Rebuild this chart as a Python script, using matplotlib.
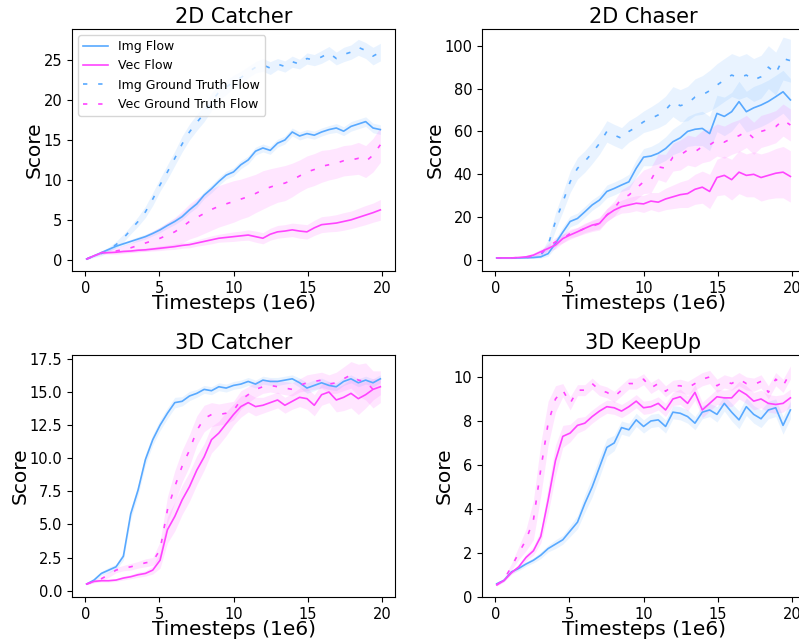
import numpy as np
import matplotlib
matplotlib.use('Agg')
import matplotlib.pyplot as plt

# Timesteps (1e6), evenly spaced evaluation points
timesteps = np.linspace(0.1, 19.9, 41)

titles = ["2D Catcher", "2D Chaser", "3D Catcher", "3D KeepUp"]
labels = ["Img Flow", "Vec Flow", "Img Ground Truth Flow", "Vec Ground Truth Flow"]

# ---------------- 2D Catcher ----------------
tl_img_flow = [0.1,0.5,0.9,1.3,1.7,2.0,2.3,2.6,2.9,3.3,3.75,4.3,4.8,5.4,6.25,7.0,8.1,8.9,9.8,10.6,11.0,11.9,12.5,13.6,14.0,13.7,14.6,15.0,16.0,15.5,15.8,15.6,16.0,16.3,16.5,16.1,16.7,17.0,17.3,16.5,16.3]
tl_img_flow_sd = [0.05,0.1,0.15,0.2,0.2,0.25,0.25,0.3,0.3,0.3,0.35,0.35,0.4,0.4,0.4,0.45,0.45,0.5,0.5,0.5,0.5,0.5,0.5,0.5,0.5,0.5,0.5,0.5,0.5,0.5,0.5,0.5,0.5,0.5,0.55,0.55,0.6,0.6,0.6,0.6,0.6]
tl_vec_flow = [0.1,0.5,0.85,0.9,0.95,1.05,1.1,1.2,1.25,1.35,1.45,1.55,1.65,1.8,1.9,2.1,2.3,2.5,2.7,2.8,2.9,3.0,3.1,2.9,2.7,3.2,3.5,3.6,3.75,3.6,3.5,4.0,4.4,4.5,4.6,4.8,5.0,5.3,5.6,5.9,6.25]
tl_vec_flow_sd = [0.05,0.05,0.1,0.1,0.1,0.15,0.15,0.2,0.2,0.25,0.3,0.3,0.35,0.35,0.4,0.4,0.45,0.5,0.5,0.55,0.6,0.6,0.65,0.7,0.7,0.75,0.8,0.8,0.85,0.9,0.9,0.95,1.0,1.0,1.05,1.1,1.1,1.15,1.2,1.2,1.3]
tl_img_gt = [0.1,0.5,0.8,1.3,1.9,2.7,3.75,4.8,6.0,7.6,9.4,11.0,12.7,14.5,16.0,17.2,18.3,19.8,21.0,21.6,22.3,22.8,23.5,24.1,24.4,24.0,24.5,24.2,24.8,24.5,25.2,25.0,25.4,25.9,25.2,25.7,26.0,26.6,26.2,25.5,26.0]
tl_img_gt_sd = [0.1,0.2,0.3,0.3,0.4,0.5,0.5,0.6,0.7,0.8,0.8,0.9,0.9,1.0,1.0,1.0,1.0,1.1,1.0,0.9,0.8,0.8,0.7,0.7,0.8,0.8,0.7,0.7,0.7,0.6,0.7,0.7,0.8,0.8,0.8,0.9,0.9,1.0,1.0,1.1,1.1]
tl_vec_gt = [0.1,0.5,0.9,1.0,1.1,1.3,1.5,1.8,2.1,2.4,2.7,3.1,3.5,4.1,4.8,5.3,5.8,6.3,6.7,7.0,7.3,7.6,7.9,8.3,8.75,9.1,9.4,9.6,10.0,10.5,11.0,11.3,11.7,11.9,12.1,12.4,12.5,12.7,12.3,13.1,14.4]
tl_vec_gt_sd = [0.05,0.1,0.2,0.3,0.4,0.5,0.6,0.8,1.0,1.2,1.4,1.6,1.8,2.0,2.2,2.4,2.5,2.6,2.6,2.6,2.6,2.5,2.5,2.4,2.4,2.3,2.2,2.2,2.1,2.0,2.0,2.0,2.0,1.9,1.9,1.9,1.9,2.0,2.0,2.1,2.2]

# ---------------- 2D Chaser ----------------
tr_img_flow = [1,1,1,1,1.1,1.2,1.5,3,7.8,13,18,19.4,22.5,25.7,28,32,33.4,35,36.5,42.8,48,48.5,49.8,52,55.2,57,60,61,61.4,59,68.4,67,69.2,73.9,69.2,71,72.3,74,76.2,78.5,74.7]
tr_img_flow_sd = [0.3,0.3,0.3,0.3,0.3,0.4,0.6,1.2,2,2.5,2.5,2.5,2.5,2.5,2.5,3,3,3,3.5,4,4,4.5,5,5.5,6,6.5,7,7.5,8,8,8.5,9,9,9.5,9.5,10,10,10,10,10,10]
tr_vec_flow = [1,1,1,1.2,1.5,2.3,3.9,5.4,7,10,11.7,13.2,14.8,16.3,17.1,21,23.3,24.9,25.7,26.5,26.2,27.5,27,28.5,29.5,30.5,31,33,34,32,38.5,39.5,37.5,41,39.5,40,38.5,39.5,40.5,41,39]
tr_vec_flow_sd = [0.3,0.3,0.3,0.4,0.6,1,1.2,1.5,1.8,2,2,2,2,2.5,2.5,3,3,3,3.5,3.5,4,4,4.5,5,5.5,6,6.5,7,7.5,8,8.5,9,9.5,10,10,10.5,11,11,11.5,12,12]
tr_img_gt = [1,1,1,1.1,1.2,1.5,2.3,7,18,27,36.5,42.8,46,50,54.4,60,58.3,56.8,60,62,64.5,66,67.7,70,73.9,72,73,76,77,79,81.6,84,86.3,85,86.3,84,85.5,90,87,94,93]
tr_img_gt_sd = [0.3,0.3,0.3,0.3,0.4,0.6,1.0,2.5,4,4.5,5,5,5,5,5,5,5,5,5,5,5,5.5,6,6.5,7,7.5,8,8.5,9,9.5,10,10,10,10,10,10,10,10,10,10,10]
tr_vec_gt = [1,1,1,1.1,1.3,1.8,3,6.2,8.5,10,12.4,13.2,14.8,15.8,17,21,24,28.8,30.3,33.4,36.5,37.3,43.5,42.8,48,49,51.3,50.5,52.9,53.7,56,55,56.8,58,60,56.8,60,61,62.2,65.3,63]
tr_vec_gt_sd = [0.3,0.3,0.3,0.3,0.4,0.6,1,1.5,2,2,2,2,2.5,2.5,3,3,3.5,4,4.5,5,5.5,6,6,6.5,6.5,7,7,7,7.5,7.5,7.5,7.5,7.5,7.5,7.5,7.5,7.5,7.5,7.5,7.5,7.5]

# ---------------- 3D Catcher ----------------
bl_img_flow = [0.5,0.8,1.3,1.55,1.8,2.6,5.8,7.6,9.9,11.4,12.5,13.4,14.2,14.3,14.7,14.9,15.2,15.1,15.4,15.3,15.5,15.6,15.8,15.6,15.9,15.8,15.8,15.9,16.0,15.7,15.3,15.5,15.7,15.5,15.4,15.8,16.0,15.7,15.9,15.7,16.0]
bl_img_flow_sd = [0.05,0.1,0.15,0.2,0.2,0.3,0.4,0.4,0.4,0.4,0.4,0.4,0.4,0.35,0.35,0.3,0.3,0.3,0.3,0.3,0.3,0.3,0.3,0.3,0.3,0.3,0.3,0.3,0.3,0.35,0.4,0.4,0.35,0.3,0.3,0.3,0.3,0.3,0.3,0.3,0.3]
bl_vec_flow = [0.5,0.7,0.75,0.75,0.8,0.95,1.05,1.2,1.3,1.55,2.3,4.6,5.6,6.85,7.85,9.1,10.1,11.4,11.9,12.6,13.3,13.9,14.2,13.9,14.0,14.2,14.4,14.0,14.3,14.6,14.5,14.0,14.8,15.0,14.4,14.6,14.9,14.5,14.8,15.2,15.4]
bl_vec_flow_sd = [0.05,0.1,0.1,0.1,0.1,0.15,0.15,0.2,0.2,0.3,0.6,1.0,1.1,1.1,1.1,1.1,1.0,1.0,0.9,0.9,0.8,0.8,0.7,0.7,0.6,0.6,0.6,0.6,0.6,0.7,0.8,0.8,0.8,0.8,0.9,1.0,1.1,1.2,1.0,0.8,0.6]
bl_vec_gt = [0.5,0.7,0.9,1.2,1.55,1.7,1.8,1.95,2.1,2.2,3.1,6.1,7.85,9.4,10.6,12.1,13.0,13.3,13.3,13.4,13.6,14.4,14.8,15.2,15.4,15.5,15.4,15.3,15.2,15.5,15.7,15.8,15.9,15.6,15.7,16.0,16.3,15.9,15.8,15.2,15.4]
bl_vec_gt_sd = [0.05,0.1,0.15,0.2,0.2,0.2,0.25,0.25,0.3,0.3,0.6,1.0,1.2,1.2,1.2,1.1,1.0,0.9,0.8,0.8,0.7,0.7,0.6,0.6,0.5,0.5,0.5,0.5,0.5,0.5,0.6,0.6,0.6,0.7,0.8,0.9,1.0,1.2,1.4,1.4,1.2]

# ---------------- 3D KeepUp ----------------
br_img_flow = [0.6,0.76,1.14,1.3,1.5,1.67,1.9,2.2,2.4,2.6,3.0,3.4,4.25,5.0,5.9,6.8,7.0,7.7,7.6,8.05,7.75,8.0,8.05,7.75,8.4,8.35,8.2,7.9,8.4,8.5,8.3,8.8,8.4,8.05,8.65,8.3,8.1,8.5,8.6,7.8,8.5]
br_img_flow_sd = [0.05,0.05,0.08,0.1,0.1,0.12,0.15,0.15,0.2,0.2,0.25,0.3,0.4,0.45,0.45,0.4,0.35,0.3,0.3,0.3,0.3,0.3,0.3,0.3,0.3,0.3,0.3,0.3,0.3,0.3,0.35,0.35,0.4,0.4,0.4,0.4,0.4,0.4,0.4,0.4,0.4]
br_vec_flow = [0.55,0.75,1.1,1.37,1.8,2.1,2.75,4.4,6.2,7.3,7.45,7.8,7.9,8.2,8.45,8.65,8.6,8.45,8.65,8.9,8.6,8.65,8.8,8.5,9.0,9.1,8.8,9.3,8.5,8.8,9.1,9.05,9.05,9.4,9.2,8.9,9.0,8.8,8.75,8.8,9.05]
br_vec_flow_sd = [0.05,0.05,0.08,0.1,0.15,0.2,0.3,0.6,0.7,0.5,0.4,0.35,0.3,0.3,0.3,0.3,0.3,0.3,0.3,0.3,0.3,0.3,0.3,0.3,0.3,0.35,0.35,0.35,0.35,0.35,0.35,0.35,0.4,0.4,0.4,0.4,0.4,0.4,0.4,0.4,0.4]
br_vec_gt = [0.55,0.8,1.37,2.0,2.6,3.5,5.8,7.9,9.0,9.4,8.8,9.4,9.4,9.7,9.4,9.3,9.1,9.4,9.7,9.7,9.9,9.5,9.7,9.35,9.6,9.6,9.5,9.7,9.9,10.0,9.6,9.8,9.7,9.9,9.7,9.65,9.8,9.3,9.9,9.6,10.2]
br_vec_gt_sd = [0.05,0.1,0.15,0.3,0.5,0.9,1.2,1.0,0.6,0.3,0.3,0.25,0.25,0.25,0.25,0.25,0.25,0.25,0.25,0.25,0.25,0.25,0.25,0.25,0.25,0.3,0.3,0.3,0.3,0.3,0.3,0.3,0.3,0.3,0.3,0.3,0.3,0.3,0.3,0.3,0.3]

BLUE = '#58a9ff'
MAGENTA = '#ff44ff'
DASH = (0, (2.6, 6.5))

panels = [
    dict(title=titles[0], rect=[0.0901, 0.5779, 0.4043, 0.377], ylim=(-1.4, 28.9),
         yticks=[0, 5, 10, 15, 20, 25], fmt='{:.0f}', legend=True,
         series=[(tl_img_flow, tl_img_flow_sd, BLUE, '-', labels[0]),
                 (tl_vec_flow, tl_vec_flow_sd, MAGENTA, '-', labels[1]),
                 (tl_img_gt, tl_img_gt_sd, BLUE, DASH, labels[2]),
                 (tl_vec_gt, tl_vec_gt_sd, MAGENTA, DASH, labels[3])]),
    dict(title=titles[1], rect=[0.6033, 0.5779, 0.4043, 0.377], ylim=(-5.1, 107.8),
         yticks=[0, 20, 40, 60, 80, 100], fmt='{:.0f}', legend=False,
         series=[(tr_img_flow, tr_img_flow_sd, BLUE, '-', labels[0]),
                 (tr_vec_flow, tr_vec_flow_sd, MAGENTA, '-', labels[1]),
                 (tr_img_gt, tr_img_gt_sd, BLUE, DASH, labels[2]),
                 (tr_vec_gt, tr_vec_gt_sd, MAGENTA, DASH, labels[3])]),
    dict(title=titles[2], rect=[0.0901, 0.0701, 0.4043, 0.377], ylim=(-0.48, 17.8),
         yticks=[0, 2.5, 5, 7.5, 10, 12.5, 15, 17.5], fmt='{:.1f}', legend=False,
         series=[(bl_img_flow, bl_img_flow_sd, BLUE, '-', labels[0]),
                 (bl_vec_flow, bl_vec_flow_sd, MAGENTA, '-', labels[1]),
                 (bl_vec_gt, bl_vec_gt_sd, MAGENTA, DASH, labels[3])]),
    dict(title=titles[3], rect=[0.6033, 0.0701, 0.4043, 0.377], ylim=(0, 11.0),
         yticks=[0, 2, 4, 6, 8, 10], fmt='{:.0f}', legend=False,
         series=[(br_img_flow, br_img_flow_sd, BLUE, '-', labels[0]),
                 (br_vec_flow, br_vec_flow_sd, MAGENTA, '-', labels[1]),
                 (br_vec_gt, br_vec_gt_sd, MAGENTA, DASH, labels[3])]),
]

fig = plt.figure(figsize=(7.99, 6.42), dpi=100)
for p in panels:
    ax = fig.add_axes(p['rect'])
    for vals, sd, col, ls, lab in p['series']:
        v = np.asarray(vals, dtype=float)
        s = np.asarray(sd, dtype=float)
        ax.fill_between(timesteps, v - s, v + s, color=col, alpha=0.13, linewidth=0)
        ax.plot(timesteps, v, color=col, linestyle=ls, linewidth=1.2, label=lab)
    ax.set_xlim(-0.89, 20.89)
    ax.set_ylim(*p['ylim'])
    ax.set_xticks([0, 5, 10, 15, 20])
    ax.set_yticks(p['yticks'])
    ax.set_yticklabels([p['fmt'].format(t) for t in p['yticks']])
    ax.tick_params(labelsize=10.5)
    ax.set_title(p['title'], fontsize=15, pad=4)
    ax.set_xlabel('Timesteps (1e6)', fontsize=14.5, labelpad=-1)
    ax.set_ylabel('Score', fontsize=14.5, labelpad=0)
    if p['legend']:
        ax.legend(loc='upper left', fontsize=9)

fig.savefig('out.png', dpi=100)
